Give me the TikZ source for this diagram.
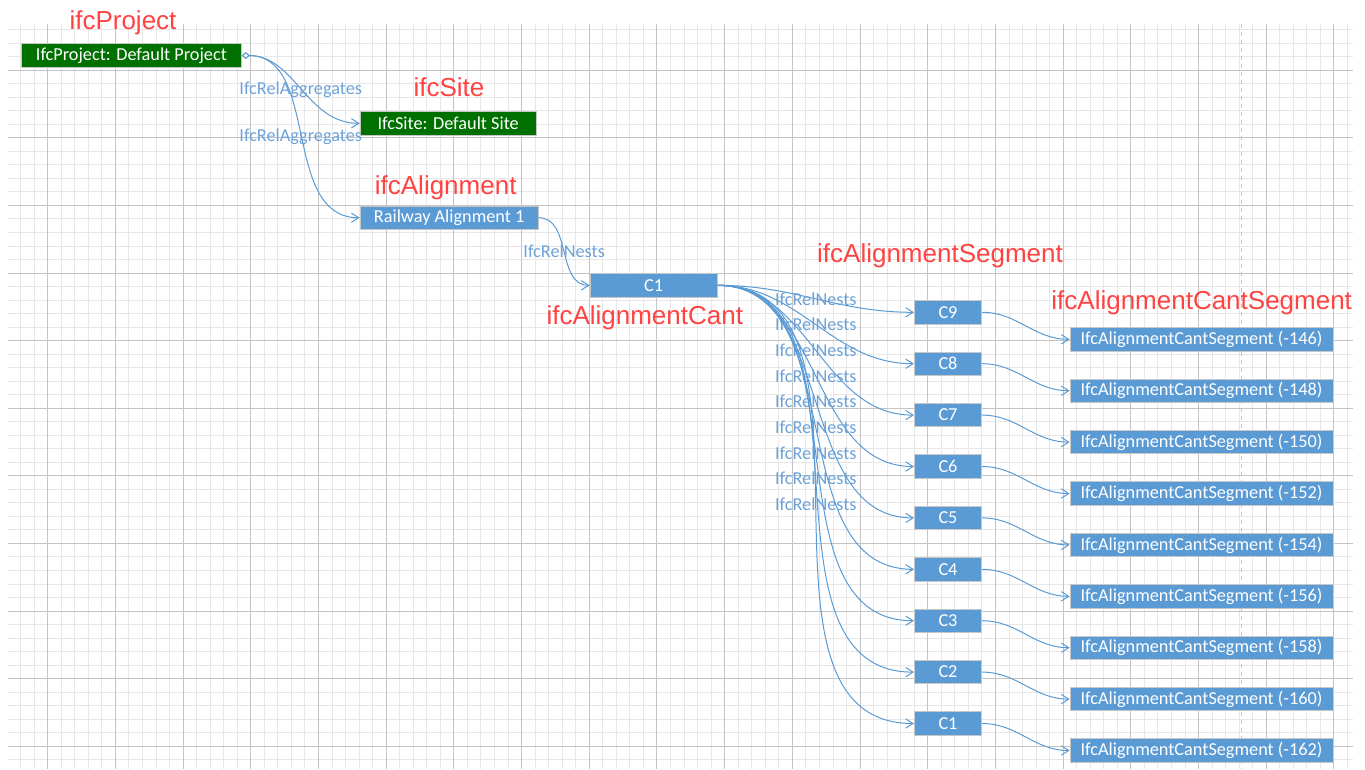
\documentclass[tikz,border=0pt]{standalone}
\usepackage{fontspec}
\setmainfont{Carlito}
\newfontfamily\titlefont{Liberation Sans}
\usetikzlibrary{arrows.meta}

\definecolor{ifcgreen}{RGB}{0,112,0}
\definecolor{ifcblue}{RGB}{91,155,213}
\definecolor{relblue}{RGB}{108,162,216}
\definecolor{ifcred}{RGB}{255,66,66}
\definecolor{gridminor}{RGB}{231,231,231}
\definecolor{gridmajor}{RGB}{196,196,196}

\tikzset{
  entity/.style={draw=black!22, line width=0.6pt, fill=ifcblue, text=white,
    minimum height=17.5pt, inner sep=0pt, font=\fontsize{13.7}{15}\selectfont},
  rootent/.style={entity, fill=ifcgreen},
  cantbox/.style={entity, minimum width=50.5pt},
  segbox/.style={entity, minimum width=197.25pt},
  ifctype/.style={text=ifcred, anchor=base, inner sep=0pt,
    font=\titlefont\fontsize{19.5}{22}\selectfont},
  rellabel/.style={text=relblue, inner sep=0pt, font=\fontsize{13.7}{15}\selectfont},
  aggr/.style={{Diamond[open,fill=white,length=6pt,width=5pt]}->},
}

\begin{document}
\begin{tikzpicture}[x=0.75pt,y=-0.75pt,->,>={Straight Barb[length=5.5pt,width=7pt]},
    node distance=38.55pt,line width=0.75pt,
    every edge/.style={draw=ifcblue,out=0,in=180}]
  \useasboundingbox (0,0) rectangle (1365,769);

  % background grid
  \begin{scope}[-]
    \foreach \i in {0,...,98}
      \draw[gridminor] (20.6+13.54*\i,24) -- (20.6+13.54*\i,769);
    \foreach \j in {0,...,54}
      \draw[gridminor] (8,29.7+13.52*\j) -- (1353,29.7+13.52*\j);
    \foreach \i in {2,7,...,97}
      \draw[gridmajor] (20.6+13.54*\i,24) -- (20.6+13.54*\i,769);
    \foreach \j in {3,8,...,53}
      \draw[gridmajor] (8,29.7+13.52*\j) -- (1353,29.7+13.52*\j);
    \draw[gridmajor,dashed] (1241.7,24) -- (1241.7,769);
  \end{scope}

  \node[ifctype] (tproj) at (123,29.3) {ifcProject};
  \node[rootent, minimum width=165pt] (proj) at (131.4,55.5) {IfcProject: Default Project};
  \node[ifctype] (tsite) at (449,96.7) {ifcSite};
  \node[rootent, minimum width=132.3pt] (site) at (448.2,123.3) {IfcSite: Default Site};
  \node[ifctype] (talign) at (445.7,194.3) {ifcAlignment};
  \node[entity, minimum width=133.7pt] (align) at (449.2,217.7) {Railway Alignment 1};
  \node[entity, minimum width=95.5pt] (cant) at (653.7,285.3) {C1};
  \node[ifctype] (tcant) at (644.8,324) {ifcAlignmentCant};
  \node[ifctype] (tseg) at (940,262.7) {ifcAlignmentSegment};
  \node[ifctype] (tcseg) at (1201.7,309.3) {ifcAlignmentCantSegment};

  \node[cantbox] (c9) at (948,312.3) {C9};
  \node[cantbox] (c8) [below of=c9] {C8};
  \node[cantbox] (c7) [below of=c8] {C7};
  \node[cantbox] (c6) [below of=c7] {C6};
  \node[cantbox] (c5) [below of=c6] {C5};
  \node[cantbox] (c4) [below of=c5] {C4};
  \node[cantbox] (c3) [below of=c4] {C3};
  \node[cantbox] (c2) [below of=c3] {C2};
  \node[cantbox] (c1) [below of=c2] {C1};

  \node[segbox] (s146) at (1201.5,339.3) {IfcAlignmentCantSegment (-146)};
  \node[segbox] (s148) [below of=s146] {IfcAlignmentCantSegment (-148)};
  \node[segbox] (s150) [below of=s148] {IfcAlignmentCantSegment (-150)};
  \node[segbox] (s152) [below of=s150] {IfcAlignmentCantSegment (-152)};
  \node[segbox] (s154) [below of=s152] {IfcAlignmentCantSegment (-154)};
  \node[segbox] (s156) [below of=s154] {IfcAlignmentCantSegment (-156)};
  \node[segbox] (s158) [below of=s156] {IfcAlignmentCantSegment (-158)};
  \node[segbox] (s160) [below of=s158] {IfcAlignmentCantSegment (-160)};
  \node[segbox] (s162) [below of=s160] {IfcAlignmentCantSegment (-162)};

  \path
  (proj) edge[aggr] node[rellabel] {IfcRelAggregates} (site)
         edge[aggr] node[rellabel] {IfcRelAggregates} (align)
  (align) edge node[rellabel] {IfcRelNests} (cant)
  (cant) edge node[rellabel] {IfcRelNests} (c9)
         edge node[rellabel] {IfcRelNests} (c8)
         edge node[rellabel] {IfcRelNests} (c7)
         edge node[rellabel] {IfcRelNests} (c6)
         edge node[rellabel] {IfcRelNests} (c5)
         edge node[rellabel] {IfcRelNests} (c4)
         edge node[rellabel] {IfcRelNests} (c3)
         edge node[rellabel] {IfcRelNests} (c2)
         edge node[rellabel] {IfcRelNests} (c1)
  (c9) edge (s146)
  (c8) edge (s148)
  (c7) edge (s150)
  (c6) edge (s152)
  (c5) edge (s154)
  (c4) edge (s156)
  (c3) edge (s158)
  (c2) edge (s160)
  (c1) edge (s162)
  ;
\end{tikzpicture}
\end{document}
